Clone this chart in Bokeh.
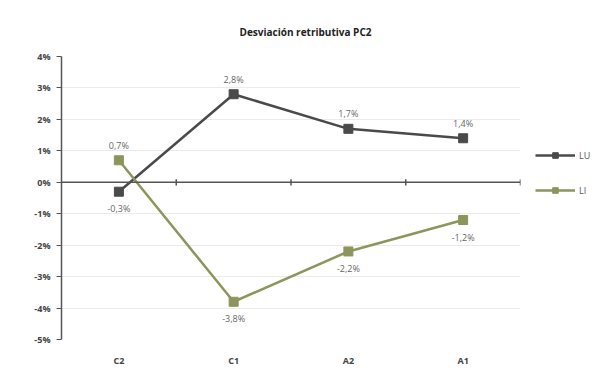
from bokeh.plotting import figure
from bokeh.models import (ColumnDataSource, Legend, LegendItem, Span, FactorRange,
                          Range1d, FixedTicker, CustomJSTickFormatter)
from bokeh.transform import dodge
from bokeh.core.properties import value
from bokeh.embed import file_html
from bokeh.resources import INLINE

categories = ["C2", "C1", "A2", "A1"]
lu_values = [-0.3, 2.8, 1.7, 1.4]
li_values = [0.7, -3.8, -2.2, -1.2]
series_names = ["LU", "LI"]
y_ticks = [4, 3, 2, 1, 0, -1, -2, -3, -4, -5]
title_text = "Desviación retributiva PC2"

colors = ["#4a4a4a", "#8d955c"]
FONT = "Open Sans"

p = figure(frame_width=459, frame_height=283, x_range=FactorRange(*categories),
           y_range=Range1d(-5, 4), output_backend="svg", toolbar_location=None,
           min_border_left=61, min_border_right=10, min_border_top=56,
           min_border_bottom=31)

p.title.text = title_text
p.title.align = "left"
p.title.text_font = FONT
p.title.text_font_size = "10px"
p.title.text_font_style = "bold"
p.title.text_color = "#222222"
p.title.offset = 178
p.title.standoff = 36

p.outline_line_color = None
p.background_fill_color = "white"
p.border_fill_color = "white"

# grid
p.xgrid.grid_line_color = None
p.ygrid.ticker = FixedTicker(ticks=y_ticks)
p.ygrid.grid_line_color = "#ebebeb"
p.ygrid.grid_line_width = 1

# y axis
p.yaxis.ticker = FixedTicker(ticks=y_ticks)
p.yaxis.formatter = CustomJSTickFormatter(code="return tick + '%';")
p.yaxis.axis_line_color = "#555555"
p.yaxis.axis_line_width = 1.5
p.yaxis.major_tick_line_color = "#555555"
p.yaxis.major_tick_out = 5
p.yaxis.major_tick_in = 0
p.yaxis.minor_tick_line_color = None
p.yaxis.major_label_text_font = FONT
p.yaxis.major_label_text_font_size = "9px"
p.yaxis.major_label_text_font_style = "bold"
p.yaxis.major_label_text_color = "#444444"
p.yaxis.major_label_standoff = 6

# x axis (labels only, at the bottom)
p.xaxis.axis_line_color = None
p.xaxis.major_tick_line_color = None
p.xaxis.minor_tick_line_color = None
p.xaxis.major_label_text_font = FONT
p.xaxis.major_label_text_font_size = "9px"
p.xaxis.major_label_text_font_style = "bold"
p.xaxis.major_label_text_color = "#444444"
p.xaxis.major_label_standoff = 8

# zero line (category axis crossing at 0)
p.add_layout(Span(location=0, dimension="width", line_color="#555555", line_width=1.5))
tick_src = ColumnDataSource(dict(cat=categories, y0=[-0.1] * 4, y1=[0.1] * 4))
p.segment(x0=dodge("cat", 0.5, range=p.x_range), x1=dodge("cat", 0.5, range=p.x_range),
          y0="y0", y1="y1", source=tick_src, line_color="#555555", line_width=1.5)

items = []
all_vals = [lu_values, li_values]
for i, (name, vals) in enumerate(zip(series_names, all_vals)):
    other = all_vals[1 - i]
    offsets = [-15 if v > o else 17 for v, o in zip(vals, other)]
    labels = [("%.1f" % v).replace(".", ",") + "%" for v in vals]
    src = ColumnDataSource(dict(cat=categories, val=vals, lab=labels, off=offsets))
    r1 = p.line("cat", "val", source=src, line_color=colors[i], line_width=2.5)
    r2 = p.scatter("cat", "val", source=src, marker="square", size=9,
                   fill_color=colors[i], line_color=colors[i])
    p.text("cat", "val", text="lab", source=src, y_offset="off",
           text_align="center", text_baseline="middle",
           text_font=value(FONT), text_font_size="9px", text_color="#666666")
    items.append(LegendItem(label=name, renderers=[r1, r2]))

legend = Legend(items=items, location=(15, 142), orientation="vertical",
                glyph_width=40, glyph_height=14, spacing=21, padding=0,
                margin=0, label_text_font=FONT, label_text_font_size="9px",
                label_text_color="#555555", border_line_color=None,
                background_fill_alpha=0, label_standoff=4)
p.add_layout(legend, "right")

open("out.html", "w").write(file_html(p, INLINE))
